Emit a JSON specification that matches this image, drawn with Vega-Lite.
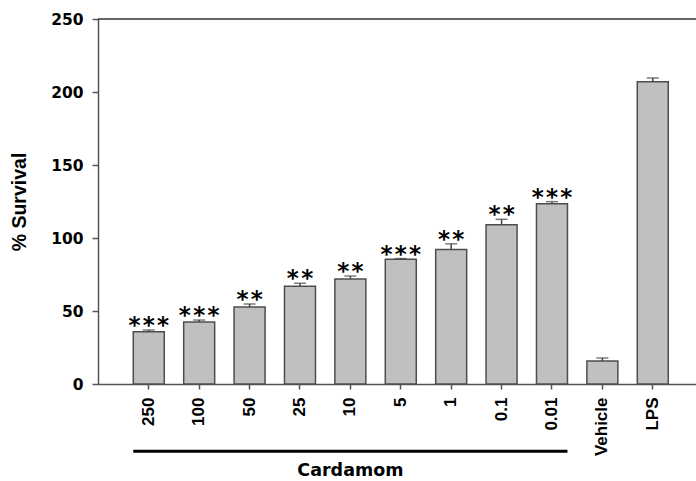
{
  "$schema": "https://vega.github.io/schema/vega-lite/v6.json",
  "autosize": {"type": "none"},
  "padding": {"left": 98, "top": 19, "right": 0, "bottom": 97},
  "width": 598,
  "height": 365,
  "background": "white",
  "config": {
    "view": {"stroke": null},
    "axis": {"grid": false, "domainColor": "#555555", "domainWidth": 1.5, "tickColor": "#555555", "tickWidth": 1.5, "labelColor": "black", "titleColor": "black"}
  },
  "data": {
    "values": [
      {"dose": "250", "value": 35.8, "err": 37.0, "sig": "*\u200a*\u200a*"},
      {"dose": "100", "value": 42.5, "err": 43.8, "sig": "*\u200a*\u200a*"},
      {"dose": "50", "value": 52.7, "err": 54.8, "sig": "*\u200a*"},
      {"dose": "25", "value": 66.9, "err": 69.0, "sig": "*\u200a*"},
      {"dose": "10", "value": 72.0, "err": 74.0, "sig": "*\u200a*"},
      {"dose": "5", "value": 85.4, "err": 85.9, "sig": "*\u200a*\u200a*"},
      {"dose": "1", "value": 92.2, "err": 96.0, "sig": "*\u200a*"},
      {"dose": "0.1", "value": 109.0, "err": 112.8, "sig": "*\u200a*"},
      {"dose": "0.01", "value": 123.5, "err": 124.9, "sig": "*\u200a*\u200a*"},
      {"dose": "Vehicle", "value": 15.8, "err": 17.8, "sig": ""},
      {"dose": "LPS", "value": 207.0, "err": 209.6, "sig": ""}
    ]
  },
  "encoding": {
    "x": {
      "field": "dose",
      "type": "nominal",
      "sort": null,
      "scale": {"domain": ["250", "100", "50", "25", "10", "5", "1", "0.1", "0.01", "Vehicle", "LPS"], "paddingInner": 0.385, "paddingOuter": 0.625, "align": 0.56},
      "axis": {"title": null, "labelAngle": -90, "labelFont": "Liberation Sans", "labelFontWeight": "bold", "labelFontSize": 17, "labelPadding": 8, "tickSize": 5}
    }
  },
  "layer": [
    {
      "mark": {"type": "bar", "fill": "#c0c0c0", "stroke": "#4d4d4d", "strokeWidth": 1.5},
      "encoding": {
        "y": {
          "field": "value",
          "type": "quantitative",
          "scale": {"domain": [0, 250], "nice": false},
          "axis": {"title": "% Survival", "values": [0, 50, 100, 150, 200, 250], "labelFont": "DejaVu Sans", "labelFontWeight": "bold", "labelFontSize": 15.5, "labelPadding": 9, "tickSize": 6, "titleFont": "Liberation Sans", "titleFontWeight": "bold", "titleFontSize": 19.5, "titlePadding": 21}
        }
      }
    },
    {
      "mark": {"type": "rule", "color": "#444444", "strokeWidth": 1.5},
      "encoding": {
        "y": {"field": "value", "type": "quantitative"},
        "y2": {"field": "err"}
      }
    },
    {
      "mark": {"type": "tick", "color": "#444444", "size": 12, "thickness": 1.5},
      "encoding": {
        "y": {"field": "err", "type": "quantitative"}
      }
    },
    {
      "mark": {"type": "text", "font": "DejaVu Sans", "fontWeight": "bold", "fontSize": 23, "baseline": "alphabetic", "dy": 3, "color": "black"},
      "encoding": {
        "y": {"field": "err", "type": "quantitative"},
        "text": {"field": "sig"}
      }
    },
    {
      "data": {"values": [{}]},
      "mark": {"type": "rule", "color": "#333333", "strokeWidth": 1.5},
      "encoding": {
        "x": null,
        "y": {"datum": 250, "type": "quantitative"}
      }
    },
    {
      "data": {"values": [{}]},
      "mark": {"type": "rule", "color": "black", "strokeWidth": 3},
      "encoding": {
        "x": {"datum": "250", "bandPosition": 0},
        "x2": {"datum": "0.01", "bandPosition": 1},
        "y": {"datum": -46, "type": "quantitative"}
      }
    },
    {
      "data": {"values": [{}]},
      "mark": {"type": "text", "font": "DejaVu Sans", "fontWeight": "bold", "fontSize": 17.5, "baseline": "alphabetic", "align": "center", "color": "black"},
      "encoding": {
        "x": {"datum": "10"},
        "y": {"datum": -63, "type": "quantitative"},
        "text": {"value": "Cardamom"}
      }
    }
  ]
}
